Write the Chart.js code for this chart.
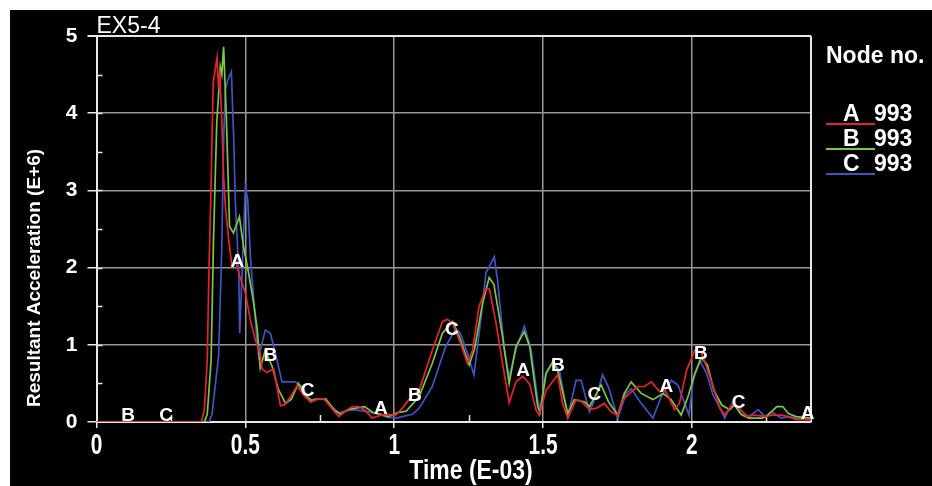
<!DOCTYPE html>
<html>
<head>
<meta charset="utf-8">
<script src="https://cdn.jsdelivr.net/npm/chart.js@4/dist/chart.umd.min.js"></script>
<style>
  html, body { margin: 0; padding: 0; background: #fff; }
  canvas { display: block; }
</style>
</head>
<body>
<canvas id="c" width="932" height="486"></canvas>
<script>
// ---- data -------------------------------------------------------------
const chartTitle = 'EX5-4';
const xTitle = 'Time (E-03)';
const yTitle = 'Resultant Acceleration (E+6)';
const legendTitle = 'Node no.';
const seriesNames = ['A', 'B', 'C'];
const nodeIds = ['993', '993', '993'];
const xTickLabels = [0, 0.5, 1, 1.5, 2];
const yTickLabels = [0, 1, 2, 3, 4, 5];

// node A (time in E-03 s, acceleration in E+6)
const timeA = [0, 0.352, 0.362, 0.372, 0.378, 0.385, 0.392, 0.405, 0.41, 0.414, 0.421, 0.427, 0.433, 0.444, 0.455, 0.466, 0.48, 0.5, 0.517, 0.534, 0.55, 0.556, 0.572, 0.595, 0.618, 0.635, 0.655, 0.674, 0.695, 0.719, 0.745, 0.764, 0.79, 0.814, 0.84, 0.859, 0.88, 0.9, 0.926, 0.957, 0.98, 1.005, 1.028, 1.061, 1.084, 1.128, 1.162, 1.178, 1.196, 1.22, 1.246, 1.263, 1.285, 1.308, 1.32, 1.342, 1.364, 1.386, 1.409, 1.432, 1.455, 1.476, 1.487, 1.51, 1.549, 1.566, 1.583, 1.611, 1.628, 1.656, 1.68, 1.706, 1.729, 1.751, 1.768, 1.796, 1.819, 1.84, 1.864, 1.892, 1.91, 1.942, 1.958, 1.982, 2.01, 2.03, 2.049, 2.071, 2.094, 2.11, 2.138, 2.16, 2.183, 2.21, 2.25, 2.268, 2.3, 2.324, 2.35, 2.38, 2.4];
const accA  = [0, 0, 0.15, 0.8, 2.0, 3.1, 4.4, 4.72, 4.31, 4.55, 3.88, 3.18, 2.79, 2.36, 2.01, 2.1, 1.9, 1.67, 1.32, 1.06, 0.89, 0.69, 0.64, 0.69, 0.21, 0.23, 0.35, 0.47, 0.35, 0.26, 0.3, 0.3, 0.18, 0.07, 0.15, 0.2, 0.2, 0.16, 0.05, 0.09, 0.1, 0.09, 0.18, 0.35, 0.41, 0.93, 1.3, 1.33, 1.28, 1.05, 0.76, 0.93, 1.5, 1.73, 1.72, 1.28, 0.76, 0.25, 0.52, 0.59, 0.49, 0.16, 0.09, 0.41, 0.61, 0.24, 0.05, 0.29, 0.27, 0.16, 0.18, 0.24, 0.13, 0.09, 0.29, 0.39, 0.46, 0.46, 0.52, 0.39, 0.41, 0.16, 0.24, 0.67, 0.93, 0.91, 0.72, 0.46, 0.18, 0.09, 0.24, 0.18, 0.07, 0.09, 0.07, 0.09, 0.09, 0.07, 0.03, 0.03, 0.03];

// node B
const timeB = [0, 0.362, 0.372, 0.385, 0.393, 0.404, 0.416, 0.421, 0.427, 0.436, 0.447, 0.46, 0.48, 0.494, 0.511, 0.528, 0.54, 0.55, 0.567, 0.59, 0.61, 0.635, 0.655, 0.678, 0.7, 0.722, 0.745, 0.77, 0.8, 0.82, 0.845, 0.87, 0.9, 0.93, 0.955, 0.98, 1.01, 1.04, 1.084, 1.128, 1.162, 1.196, 1.218, 1.252, 1.27, 1.297, 1.319, 1.335, 1.364, 1.386, 1.409, 1.437, 1.455, 1.482, 1.49, 1.51, 1.533, 1.549, 1.583, 1.605, 1.64, 1.656, 1.695, 1.72, 1.751, 1.773, 1.796, 1.83, 1.869, 1.903, 1.93, 1.964, 1.987, 2.01, 2.032, 2.052, 2.074, 2.1, 2.127, 2.143, 2.165, 2.19, 2.235, 2.25, 2.285, 2.305, 2.324, 2.35, 2.4];
const accB  = [0, 0, 0.1, 0.8, 2.36, 3.88, 4.6, 4.5, 4.86, 3.96, 2.53, 2.45, 2.66, 2.27, 1.93, 1.54, 1.2, 0.7, 0.93, 0.72, 0.43, 0.24, 0.3, 0.5, 0.35, 0.28, 0.3, 0.3, 0.15, 0.1, 0.16, 0.18, 0.2, 0.12, 0.1, 0.07, 0.12, 0.14, 0.33, 0.76, 1.15, 1.3, 1.11, 0.74, 0.95, 1.54, 1.87, 1.78, 1.11, 0.5, 0.98, 1.17, 0.98, 0.2, 0.12, 0.63, 0.78, 0.67, 0.11, 0.29, 0.26, 0.2, 0.48, 0.26, 0.09, 0.37, 0.52, 0.37, 0.29, 0.37, 0.29, 0.09, 0.33, 0.63, 0.83, 0.74, 0.41, 0.22, 0.16, 0.22, 0.1, 0.05, 0.05, 0.07, 0.2, 0.2, 0.11, 0.07, 0.05];

// node C
const timeC = [0, 0.378, 0.388, 0.41, 0.421, 0.427, 0.433, 0.442, 0.453, 0.461, 0.466, 0.478, 0.481, 0.489, 0.5, 0.508, 0.517, 0.528, 0.539, 0.545, 0.567, 0.584, 0.601, 0.623, 0.646, 0.668, 0.691, 0.719, 0.735, 0.764, 0.79, 0.814, 0.859, 0.9, 0.93, 0.971, 1.005, 1.061, 1.084, 1.128, 1.173, 1.207, 1.222, 1.246, 1.268, 1.29, 1.308, 1.336, 1.347, 1.37, 1.386, 1.41, 1.437, 1.46, 1.482, 1.49, 1.51, 1.533, 1.555, 1.583, 1.611, 1.628, 1.656, 1.68, 1.7, 1.72, 1.751, 1.779, 1.796, 1.83, 1.869, 1.897, 1.931, 1.953, 1.99, 2.004, 2.026, 2.049, 2.071, 2.094, 2.11, 2.138, 2.16, 2.19, 2.223, 2.245, 2.268, 2.3, 2.324, 2.35, 2.4];
const accC  = [0, 0, 0.1, 0.85, 2.27, 3.66, 4.31, 4.44, 4.54, 3.66, 2.88, 1.93, 1.15, 1.93, 3.05, 2.88, 2.14, 1.58, 1.06, 0.85, 1.19, 1.15, 0.89, 0.52, 0.52, 0.52, 0.46, 0.26, 0.3, 0.3, 0.2, 0.12, 0.16, 0.14, 0.12, 0.07, 0.05, 0.1, 0.18, 0.46, 0.98, 1.21, 1.15, 0.89, 0.61, 1.3, 1.93, 2.14, 1.84, 0.93, 0.59, 0.95, 1.24, 0.93, 0.29, 0.16, 0.63, 0.78, 0.67, 0.07, 0.54, 0.54, 0.13, 0.35, 0.61, 0.45, 0.05, 0.37, 0.43, 0.24, 0.05, 0.33, 0.54, 0.48, 0.09, 0.54, 0.8, 0.63, 0.35, 0.18, 0.05, 0.26, 0.16, 0.07, 0.16, 0.07, 0.13, 0.05, 0.07, 0.05, 0.03];

// times at which each curve carries its identifying letter
const markA = [0.473, 0.955, 1.433, 1.914, 2.389];
const markB = [0.106, 0.584, 1.069, 1.55, 2.03];
const markC = [0.234, 0.709, 1.194, 1.672, 2.157];

// ---- styling ----------------------------------------------------------
const SANS = '"Liberation Sans", Arial, sans-serif';
const colors = ['#e8222b', '#7cc83f', '#3d55c4'];
const GRID = '#979797';
const AXIS = '#e8e8e8';

function pairs(t, v) { return t.map((x, i) => ({ x, y: v[i] })); }
function valueAt(t, v, x) {
  for (let i = 1; i < t.length; i++) {
    if (x <= t[i]) {
      const f = (x - t[i - 1]) / (t[i] - t[i - 1]);
      return v[i - 1] + f * (v[i] - v[i - 1]);
    }
  }
  return v[v.length - 1];
}

// condensed bold text: regular glyphs squeezed horizontally
function narrowText(ctx, text, cx, baseY, size, squeeze) {
  ctx.save();
  ctx.font = 'bold ' + size + 'px ' + SANS;
  ctx.textAlign = 'center';
  ctx.textBaseline = 'alphabetic';
  ctx.translate(cx, baseY);
  ctx.scale(squeeze, 1);
  ctx.fillText(text, 0, 0);
  ctx.restore();
}

const series = [
  { t: timeA, v: accA, marks: markA },
  { t: timeB, v: accB, marks: markB },
  { t: timeC, v: accC, marks: markC }
];

// black panel, frame, inner ticks, curve letters, titles and legend
const framePlugin = {
  id: 'frame',
  beforeDraw(chart) {
    const { ctx, width, height } = chart;
    ctx.save();
    ctx.fillStyle = '#ffffff';
    ctx.fillRect(0, 0, width, height);
    ctx.fillStyle = '#000000';
    ctx.fillRect(10, 10, width - 10, height - 10);
    ctx.restore();
  },
  beforeDatasetsDraw(chart) {
    const { ctx, chartArea: a, scales } = chart;
    ctx.save();
    ctx.strokeStyle = AXIS;
    ctx.lineWidth = 2;
    ctx.beginPath();
    ctx.moveTo(a.right, a.top);
    ctx.lineTo(a.right, a.bottom);
    ctx.stroke();
    ctx.lineWidth = 1.5;
    ctx.beginPath();
    for (let v = 0.5; v < 5; v += 0.5) {
      const y = Math.round(scales.y.getPixelForValue(v)) + 0.5;
      ctx.moveTo(a.left, y); ctx.lineTo(a.left + 6, y);
    }
    for (let v = 0.25; v < 2.4; v += 0.5) {
      const x = Math.round(scales.x.getPixelForValue(v)) + 0.5;
      ctx.moveTo(x, a.bottom); ctx.lineTo(x, a.bottom - 7);
    }
    ctx.stroke();
    ctx.restore();
  },
  afterDatasetsDraw(chart) {
    const { ctx, scales } = chart;
    ctx.save();
    ctx.font = 'bold 19px ' + SANS;
    ctx.fillStyle = '#ffffff';
    ctx.textAlign = 'center';
    ctx.textBaseline = 'middle';
    series.forEach((s, i) => {
      s.marks.forEach(m => {
        const x = scales.x.getPixelForValue(m);
        const y = scales.y.getPixelForValue(valueAt(s.t, s.v, m)) - 6;
        ctx.fillText(seriesNames[i], x, y);
      });
    });
    ctx.restore();
  },
  afterDraw(chart) {
    const { ctx, chartArea: a, scales } = chart;
    ctx.save();
    ctx.fillStyle = '#ffffff';
    ctx.textBaseline = 'alphabetic';

    // x tick labels (condensed)
    xTickLabels.forEach(v => {
      narrowText(ctx, String(v), scales.x.getPixelForValue(v), 454, 29, 0.72);
    });
    // x axis title
    narrowText(ctx, xTitle, 471, 479, 27, 0.85);

    // y axis title
    ctx.save();
    ctx.font = 'bold 19px ' + SANS;
    ctx.textAlign = 'center';
    ctx.textBaseline = 'middle';
    ctx.translate(35, 278);
    ctx.rotate(-Math.PI / 2);
    ctx.fillText(yTitle, 0, 0);
    ctx.restore();

    // chart title
    ctx.font = '23px ' + SANS;
    ctx.textAlign = 'left';
    ctx.fillText(chartTitle, a.left, 33);

    // legend
    const x0 = a.right + 15;
    ctx.font = 'bold 23px ' + SANS;
    ctx.fillText(legendTitle, x0, 63);
    chart.data.datasets.forEach((ds, i) => {
      const y = 121 + i * 25;
      ctx.fillText(seriesNames[i], x0 + 17, y);
      ctx.fillText(nodeIds[i], x0 + 48, y);
      ctx.strokeStyle = ds.borderColor;
      ctx.lineWidth = 2;
      ctx.beginPath();
      ctx.moveTo(x0, y + 3);
      ctx.lineTo(x0 + 49, y + 3);
      ctx.stroke();
    });
    ctx.restore();
  }
};

new Chart(document.getElementById('c'), {
  type: 'line',
  data: {
    datasets: series.map((s, i) => ({
      label: seriesNames[i],
      data: pairs(s.t, s.v),
      borderColor: colors[i],
      borderWidth: 1.7,
      pointRadius: 0,
      tension: 0,
      fill: false
    }))
  },
  options: {
    responsive: false,
    animation: false,
    devicePixelRatio: 1,
    layout: { padding: { left: 10, top: 36, right: 121, bottom: 0 } },
    plugins: { legend: { display: false }, tooltip: { enabled: false } },
    scales: {
      x: {
        type: 'linear',
        min: 0,
        max: 2.4,
        afterFit(scale) { scale.height = 64; },
        afterBuildTicks(scale) {
          scale.ticks = xTickLabels.map(v => ({ value: v }));
        },
        ticks: { display: false },
        grid: {
          color: c => (c.tick && c.tick.value > 0 ? GRID : 'rgba(0,0,0,0)'),
          lineWidth: 1.5,
          drawTicks: true,
          tickLength: 6,
          tickColor: AXIS
        },
        border: { display: true, color: AXIS, width: 2 }
      },
      y: {
        type: 'linear',
        min: 0,
        max: 5,
        afterFit(scale) { scale.width = 86.5; },
        afterBuildTicks(scale) {
          scale.ticks = yTickLabels.map(v => ({ value: v }));
        },
        ticks: {
          color: '#ffffff',
          padding: 10,
          font: { family: SANS, size: 21, weight: 'bold' },
          callback: v => String(v)
        },
        grid: {
          color: c => (c.tick && c.tick.value === 5 ? AXIS : (c.tick && c.tick.value > 0 ? GRID : 'rgba(0,0,0,0)')),
          lineWidth: c => (c.tick && c.tick.value === 5 ? 2 : 1.5),
          drawTicks: true,
          tickLength: 9,
          tickColor: AXIS
        },
        border: { display: true, color: AXIS, width: 2 }
      }
    }
  },
  plugins: [framePlugin]
});
</script>
</body>
</html>
